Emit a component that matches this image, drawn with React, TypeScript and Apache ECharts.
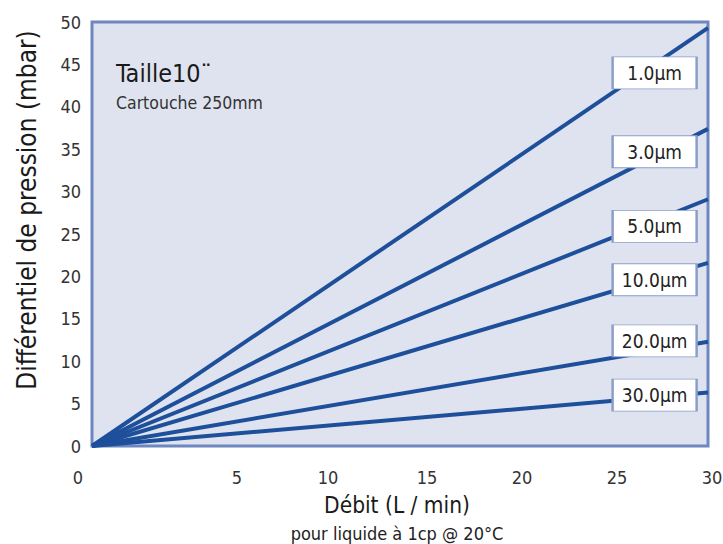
import React, { useEffect, useRef } from "react";
import * as echarts from "echarts";

const filters = ["1.0µm", "3.0µm", "5.0µm", "10.0µm", "20.0µm", "30.0µm"];
const endValues = [49.3, 37.4, 29.1, 21.6, 12.3, 6.3]; // mbar at 30 L/min
const labelX = 27.4;
const labelY = [44.0, 34.7, 25.9, 19.6, 12.4, 6.0];
const xTickLabels = ["0", "5", "10", "15", "20", "25", "30"];
const xTickPx = [78, 237, 328, 427, 522, 617, 712];

const FONT = "'Liberation Sans Narrow', 'DejaVu Sans Condensed', 'Roboto', sans-serif";
const LINE = "#1d4f9a";

export default function App() {
  const ref = useRef<HTMLDivElement>(null);
  useEffect(() => {
    if (!ref.current) return;
    const chart = echarts.init(ref.current, null, { renderer: "svg" });
    const series = filters.map((f, i) => ({
      type: "line",
      name: f,
      data: [[0, 0], [30, endValues[i]]],
      symbol: "none",
      lineStyle: { color: LINE, width: 4 },
      clip: true,
      z: 2,
      markPoint: {
        symbol: "rect",
        symbolSize: [84, 32],
        itemStyle: { color: "#ffffff", borderColor: "#8a9cc8", borderWidth: 1.5 },
        label: {
          show: true,
          position: "inside",
          formatter: f,
          color: "#222",
          fontSize: 19,
          fontFamily: FONT,
        },
        data: [{ coord: [labelX, labelY[i]] }],
        z: 5,
      },
    }));
    chart.setOption({
      animation: false,
      textStyle: { fontFamily: FONT },
      grid: {
        left: 92,
        right: 15,
        top: 22,
        bottom: 98,
        show: true,
        backgroundColor: "#dfe3ef",
        borderColor: "#6f87c0",
        borderWidth: 3,
      },
      xAxis: {
        type: "value",
        min: 0,
        max: 30,
        axisLine: { show: false },
        axisTick: { show: false },
        axisLabel: { show: false },
        splitLine: { show: false },
      },
      yAxis: {
        type: "value",
        min: 0,
        max: 50,
        interval: 5,
        axisLine: { show: false },
        axisTick: { show: false },
        splitLine: { show: false },
        axisLabel: { color: "#333", fontSize: 18, margin: 11, fontFamily: FONT },
      },
      graphic: [
        ...xTickLabels.map((t, i) => ({
          type: "text",
          x: xTickPx[i],
          y: 477,
          style: {
            text: t,
            fill: "#333",
            fontSize: 18,
            fontFamily: FONT,
            textAlign: "center",
            textVerticalAlign: "middle",
          },
        })),
        {
          type: "text",
          x: 116,
          y: 73,
          style: { text: "Taille10¨", fill: "#1a1a1a", fontSize: 25, fontFamily: FONT, textVerticalAlign: "middle" },
        },
        {
          type: "text",
          x: 116,
          y: 103,
          style: { text: "Cartouche 250mm", fill: "#333", fontSize: 17.5, fontFamily: FONT, textVerticalAlign: "middle" },
        },
        {
          type: "text",
          x: 27,
          y: 210,
          rotation: Math.PI / 2,
          style: {
            text: "Différentiel de pression (mbar)",
            fill: "#1a1a1a",
            fontSize: 26,
            fontFamily: FONT,
            textAlign: "center",
            textVerticalAlign: "middle",
          },
        },
        {
          type: "text",
          x: 397,
          y: 505,
          style: {
            text: "Débit (L / min)",
            fill: "#1a1a1a",
            fontSize: 22.5,
            fontFamily: FONT,
            textAlign: "center",
            textVerticalAlign: "middle",
          },
        },
        {
          type: "text",
          x: 397,
          y: 533,
          style: {
            text: "pour liquide à 1cp @ 20°C",
            fill: "#222",
            fontSize: 18,
            fontFamily: FONT,
            textAlign: "center",
            textVerticalAlign: "middle",
          },
        },
      ],
      series,
    });
    return () => chart.dispose();
  }, []);
  return <div ref={ref} style={{ width: 723, height: 544, position: "absolute", left: 0, top: 0 }} />;
}
